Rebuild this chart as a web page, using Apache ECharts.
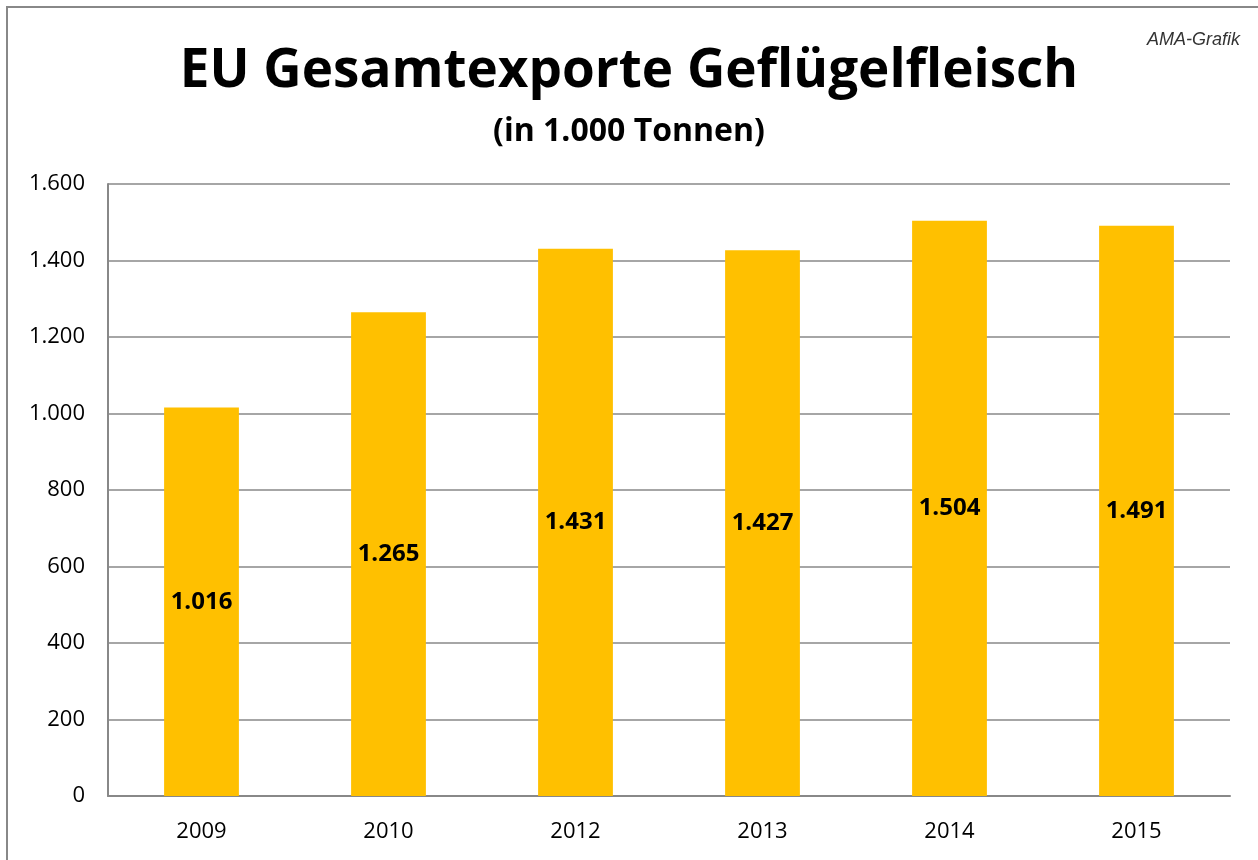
<!DOCTYPE html>
<html><head><meta charset="utf-8">
<script src="https://cdn.jsdelivr.net/npm/echarts@6/dist/echarts.min.js"></script>
<style>html,body{margin:0;padding:0;background:#fff}#c{width:1258px;height:860px}</style>
</head><body><div id="c"></div>
<script>
const categories = ['2009','2010','2012','2013','2014','2015'];
const values = [1016, 1265, 1431, 1427, 1504, 1491];
const yTicks = {min:0, max:1600, interval:200};

function fmt(v){ return String(v).replace(/\B(?=(\d{3})+(?!\d))/g,'.'); }

const chart = echarts.init(document.getElementById('c'));
chart.setOption({
  backgroundColor:'#fff',
  animation:false,
  graphic:[
    {type:'rect', shape:{x:7, y:7, width:1300, height:900}, style:{fill:'none', stroke:'#888', lineWidth:2}},
    {type:'text', left:1147, top:31, style:{text:'AMA-Grafik', font:'italic 18px "Liberation Sans", Arial, sans-serif', fill:'#333'}}
  ],
  title:[
    {text:'EU Gesamtexporte Geflügelfleisch', left:'center', top:40,
     textStyle:{fontFamily:'"Open Sans", sans-serif', fontWeight:'bold', fontSize:53, color:'#000'}},
    {text:'(in 1.000 Tonnen)', left:'center', top:111,
     textStyle:{fontFamily:'"Open Sans", sans-serif', fontWeight:'bold', fontSize:32, color:'#000'}}
  ],
  grid:{left:108, right:28, top:184, bottom:64, containLabel:false},
  xAxis:{type:'category', data:categories,
    axisLine:{show:true, lineStyle:{color:'#888', width:2}},
    axisTick:{show:false},
    axisLabel:{color:'#000', fontSize:22, fontFamily:'"Open Sans", sans-serif', margin:25}},
  yAxis:{type:'value', min:yTicks.min, max:yTicks.max, interval:yTicks.interval,
    axisLine:{show:true, lineStyle:{color:'#888', width:2}},
    axisTick:{show:false},
    splitLine:{lineStyle:{color:'#a6a6a6', width:2}},
    axisLabel:{color:'#000', fontSize:22, fontFamily:'"Open Sans", sans-serif', margin:23, formatter:v=>fmt(v)}},
  series:[{type:'bar', data:values, barWidth:'40%',
    itemStyle:{color:'#FFC000'},
    label:{show:true, position:'inside', color:'#000', fontWeight:'bold', fontSize:24,
      fontFamily:'"Open Sans", sans-serif', formatter:p=>fmt(p.value)}}]
});
</script></body></html>
